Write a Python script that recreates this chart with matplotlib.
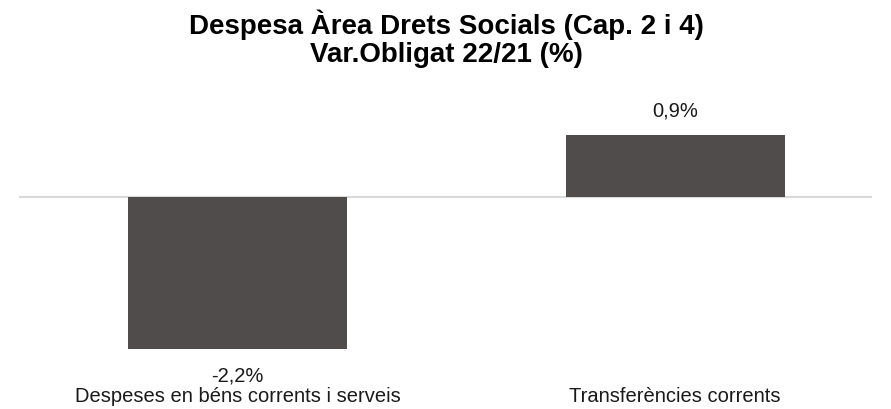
import matplotlib
matplotlib.use("Agg")
import matplotlib.pyplot as plt

# dades
categories = ["Despeses en béns corrents i serveis", "Transferències corrents"]
values = [-2.2, 0.9]
value_labels = ["-2,2%", "0,9%"]
title = "Despesa Àrea Drets Socials (Cap. 2 i 4)\nVar.Obligat 22/21 (%)"

BAR_COLOR = '#504C4B'

plt.rcParams['font.family'] = ['Liberation Sans', 'DejaVu Sans']

fig = plt.figure(figsize=(8.91, 4.09), dpi=100, facecolor='white')
ax = fig.add_axes([0.0213, 0.0709, 0.9574, 0.6846])

x = list(range(len(categories)))
ax.bar(x, values, width=0.5, color=BAR_COLOR, zorder=2)
ax.axhline(0, color='#D9D9D9', linewidth=1.5, zorder=1)

for xi, v, lab in zip(x, values, value_labels):
    if v >= 0:
        ax.annotate(lab, (xi, v), xytext=(0, 14), textcoords='offset pixels',
                    ha='center', va='bottom', fontsize=14.5, color='#1a1a1a')
    else:
        ax.annotate(lab, (xi, v), xytext=(0, -18), textcoords='offset pixels',
                    ha='center', va='top', fontsize=14.5, color='#1a1a1a')

ax.set_xlim(-0.5, 1.45)
ax.set_ylim(-2.652, 1.406)
ax.set_xticks(x)
ax.set_xticklabels(categories, fontsize=14.5, color='#1a1a1a')
ax.tick_params(axis='x', length=0, pad=5)
ax.set_yticks([])
for s in ax.spines.values():
    s.set_visible(False)

fig.text(0.501, 0.905, title, ha='center', va='center', fontsize=20,
         fontweight='bold', linespacing=1.12)

fig.savefig("out.png", dpi=100, facecolor='white')
plt.close(fig)
